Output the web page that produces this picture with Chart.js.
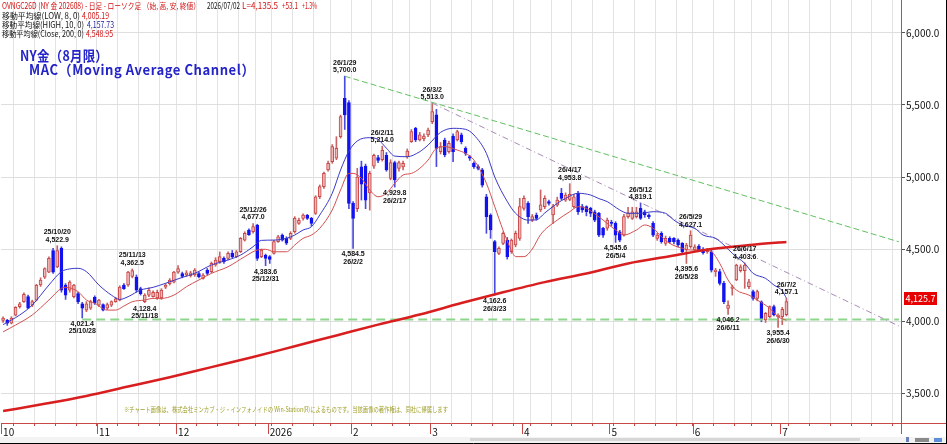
<!DOCTYPE html>
<html>
<head>
<meta charset="utf-8">
<script src="https://cdn.jsdelivr.net/npm/chart.js@4.4.0/dist/chart.umd.min.js"></script>
<style>
  html, body { margin: 0; padding: 0; background: #fff; }
  canvas { display: block; }
</style>
</head>
<body>
<canvas id="chart" width="947" height="444"></canvas>
<script>
// trading calendar (NY gold, US holidays skipped)
const firstDay = '2025-10-01';
const holidays = ['2025-11-27', '2025-12-25', '2026-01-01', '2026-01-19', '2026-02-16',
  '2026-04-03', '2026-05-25', '2026-06-19', '2026-07-03'];
const slotCount = 216;

// daily candles
const opens = [
  4005,4005,3985,4040,4100,4135,4170,4110,4145,4250,
  4305,4340,4490,4375,4505,4250,4215,4170,4190,4120,
  4075,4090,4165,4110,4115,4090,4110,4135,4145,4250,
  4250,4310,4305,4225,4135,4180,4170,4160,4160,4235,
  4260,4270,4340,4330,4320,4315,4320,4330,4296,4354,
  4342,4390,4412,4435,4435,4470,4447,4481,4562,4632,
  4620,4667,4447,4458,4447,4470,4551,4597,4574,4574,
  4620,4678,4713,4736,4713,4748,4863,4933,5049,5106,
  5130,5280,5546,5516,4817,4780,5070,5075,4890,5075,
  5135,5120,5150,4990,5100,5060,5070,5140,5245,5338,
  5257,5265,5292,5384,5431,5176,5257,5176,5285,5257,
  5292,5199,5141,5095,5072,5049,4863,4736,4551,4470,
  4539,4562,4481,4528,4574,4782,4817,4701,4736,4771,
  4794,4829,4736,4805,4887,4840,4845,4794,4887,4794,
  4794,4782,4759,4748,4644,4644,4685,4678,4620,4597,
  4725,4713,4725,4782,4759,4736,4678,4574,4609,4539,
  4574,4574,4562,4539,4493,4516,4493,4521,4498,4481,
  4480,4343,4343,4262,4088,4227,4285,4350,4350,4238,
  4204,4157,4134,4007,4030,4100,4030,4030,4045
];
const highs = [
  4030,4012,4030,4100,4130,4195,4180,4145,4255,4300,
  4370,4445,4505,4523,4515,4260,4280,4255,4200,4130,
  4135,4145,4175,4150,4120,4125,4140,4165,4245,4260,
  4345,4362,4320,4235,4190,4230,4210,4215,4225,4260,
  4295,4345,4385,4340,4350,4345,4365,4340,4330,4365,
  4410,4440,4480,4445,4480,4490,4490,4580,4620,4640,
  4677,4672,4500,4465,4455,4560,4595,4605,4585,4620,
  4725,4715,4745,4740,4720,4870,4945,5035,5110,5225,
  5280,5430,5700,5530,4830,5060,5110,5090,5040,5160,
  5150,5214,5170,5120,5110,5110,5110,5195,5330,5345,
  5310,5300,5340,5513,5470,5240,5270,5250,5300,5325,
  5305,5210,5150,5105,5085,5060,4880,4745,4560,4515,
  4620,4580,4570,4625,4852,4870,4830,4740,4750,4910,
  4870,4840,4810,4860,4921,4890,4954,4880,4900,4810,
  4800,4790,4770,4755,4650,4715,4700,4690,4630,4740,
  4790,4790,4790,4819,4770,4745,4690,4610,4620,4590,
  4585,4580,4570,4545,4540,4627,4530,4530,4510,4505,
  4495,4366,4360,4275,4140,4250,4395,4390,4404,4290,
  4215,4215,4140,4060,4105,4110,4050,4095,4157
];
const lows = [
  3990,3970,3980,4035,4090,4130,4085,4100,4140,4240,
  4295,4335,4330,4370,4200,4150,4200,4160,4120,4021,
  4065,4080,4115,4100,4070,4080,4100,4130,4140,4220,
  4240,4300,4200,4180,4128,4170,4165,4150,4150,4225,
  4250,4265,4330,4300,4310,4305,4310,4300,4290,4320,
  4335,4380,4400,4400,4425,4440,4440,4475,4555,4595,
  4610,4420,4440,4384,4400,4465,4545,4555,4530,4565,
  4610,4670,4700,4705,4660,4740,4850,4920,5040,5095,
  5120,5270,5330,4780,4505,4760,4840,4780,4770,5060,
  5100,5110,5040,4980,4930,5040,5050,5130,5240,5245,
  5250,5250,5280,5370,5072,5160,5140,5165,5106,5250,
  5230,5150,5115,5060,5050,4930,4609,4574,4180,4460,
  4530,4430,4470,4515,4560,4770,4678,4690,4700,4760,
  4780,4805,4678,4795,4840,4830,4835,4785,4740,4755,
  4730,4725,4690,4585,4580,4630,4660,4546,4550,4590,
  4715,4705,4715,4705,4720,4710,4585,4560,4540,4525,
  4540,4535,4515,4470,4400,4505,4485,4485,4465,4470,
  4340,4310,4250,4120,4046,4180,4280,4340,4227,4225,
  4145,4140,3995,3990,4020,4035,3955,3975,4035
];
const closes = [
  4020,3985,4020,4095,4120,4185,4090,4135,4250,4285,
  4365,4435,4340,4490,4215,4180,4270,4250,4135,4090,
  4120,4135,4125,4145,4075,4115,4135,4155,4235,4225,
  4340,4350,4215,4190,4180,4215,4200,4200,4215,4250,
  4285,4340,4365,4310,4335,4335,4354,4308,4319,4331,
  4400,4424,4447,4412,4470,4447,4481,4574,4609,4600,
  4655,4435,4493,4435,4428,4551,4585,4562,4540,4609,
  4713,4700,4736,4713,4678,4863,4933,5025,5095,5211,
  5199,5419,5431,4817,4713,5000,4950,4840,5025,5150,
  5115,5185,5050,5100,4980,5100,5095,5180,5315,5257,
  5292,5285,5326,5454,5199,5211,5153,5234,5176,5315,
  5245,5164,5130,5072,5060,4944,4725,4632,4481,4505,
  4609,4447,4562,4609,4794,4852,4725,4725,4713,4806,
  4852,4817,4794,4840,4852,4875,4880,4863,4759,4771,
  4759,4748,4701,4597,4597,4701,4678,4597,4562,4725,
  4752,4759,4759,4713,4736,4725,4597,4597,4551,4574,
  4551,4551,4528,4481,4528,4597,4516,4493,4475,4498,
  4354,4354,4262,4134,4111,4238,4389,4377,4389,4273,
  4157,4204,4007,4053,4100,4042,4042,4082,4135.5
];

// moving averages, [slot, value] read at points along each line
const maLow = [[0,3925],[3,3972],[7,4042],[11,4146],[14,4227],[15,4234],[18,4204],[20,4146],[22,4123],[25,4076],
  [27,4076],[29,4104],[31,4134],[34,4146],[36,4157],[38,4157],[41,4180],[44,4238],[47,4285],[50,4331],
  [54,4377],[58,4447],[61,4493],[63,4498],[65,4481],[68,4481],[70,4528],[72,4574],[74,4597],[76,4644],
  [79,4771],[81,4910],[83,5025],[84,5025],[86,4991],[88,4910],[90,4863],[92,4887],[94,4956],[96,5014],
  [98,5025],[100,5060],[102,5118],[104,5199],[106,5211],[109,5187],[111,5164],[113,5118],[116,4956],[118,4794],
  [120,4630],[122,4490],[123,4447],[125,4447],[127,4500],[129,4600],[133,4701],[136,4759],[138,4794],[140,4782],
  [142,4745],[144,4701],[147,4632],[149,4597],[152,4632],[154,4667],[156,4644],[158,4586],[160,4539],[163,4505],
  [165,4493],[168,4493],[170,4481],[172,4400],[174,4285],[176,4215],[179,4180],[181,4146],[184,4088],[186,4030],
  [188,4005]];
const maHigh = [[0,3975],[4,4042],[7,4111],[11,4250],[14,4343],[16,4362],[18,4366],[20,4343],[23,4250],[26,4180],
  [28,4150],[30,4169],[33,4215],[36,4234],[39,4262],[43,4303],[46,4331],[50,4389],[54,4424],[57,4458],
  [60,4516],[62,4560],[65,4562],[68,4574],[70,4597],[72,4632],[74,4655],[76,4736],[79,4887],[81,5049],
  [83,5180],[85,5250],[88,5273],[90,5260],[92,5200],[94,5145],[97,5141],[100,5176],[102,5222],[105,5310],
  [108,5338],[111,5331],[113,5292],[116,5164],[118,5000],[121,4830],[123,4748],[126,4701],[128,4703],[130,4750],
  [133,4817],[135,4852],[138,4887],[141,4875],[143,4850],[145,4829],[148,4771],[150,4748],[153,4748],[156,4759],
  [159,4748],[161,4701],[163,4667],[166,4644],[168,4597],[171,4574],[173,4528],[175,4470],[178,4400],[180,4331],
  [183,4296],[185,4250],[187,4210],[188,4158]];
const ma200 = [[0,3375],[10,3425],[20,3480],[30,3545],[40,3610],[50,3680],[60,3750],[70,3825],[80,3900],[90,3975],
  [100,4045],[110,4125],[120,4200],[130,4270],[140,4330],[150,4400],[160,4450],[170,4500],[180,4530],[188,4549]];

// trend lines
const trendTop = [[82,5700],[215,4550]];
const trendMid = [[103,5513],[215,3965]];
const trendFloor = [[19,4010],[215,4010]];

const yTicks = [3500, 4000, 4500, 5000, 5500, 6000];
const yMin = 3292, yMax = 6229;

// high / low call-outs: date, side, text
const marks = [
  ['25/10/20','hi','4,522.9'], ['25/10/28','lo','4,021.4'], ['25/11/13','hi','4,362.5'], ['25/11/18','lo','4,128.4'],
  ['25/12/26','hi','4,677.0'], ['25/12/31','lo','4,383.6'], ['26/1/29','hi','5,700.0'], ['26/2/2','lo','4,584.5'],
  ['26/2/11','hi','5,214.0'], ['26/2/17','lo','4,929.8'], ['26/3/2','hi','5,513.0'], ['26/3/23','lo','4,162.6'],
  ['26/4/17','hi','4,953.8'], ['26/5/4','lo','4,545.6'], ['26/5/12','hi','4,819.1'], ['26/5/28','lo','4,395.6'],
  ['26/5/29','hi','4,627.1'], ['26/6/11','lo','4,046.2'], ['26/6/17','hi','4,403.6'], ['26/6/30','lo','3,955.4'],
  ['26/7/2','hi','4,157.1']
];
const lastPrice = 4155, lastPriceText = '4,125.7';

// ---- build categories
const days = [];
let d = new Date(firstDay + 'T00:00:00Z');
while (days.length < slotCount) {
  const iso = d.toISOString().slice(0, 10);
  const wd = d.getUTCDay();
  if (wd !== 0 && wd !== 6 && !holidays.includes(iso)) days.push(new Date(d));
  d.setUTCDate(d.getUTCDate() + 1);
}
const n = opens.length;
const labels = days.map((t, i) => i < n ? String(t.getUTCFullYear()).slice(2) + '/' + (t.getUTCMonth() + 1) + '/' + t.getUTCDate() : '');
const weekStart = days.map((t, i) => i > 0 && t.getUTCDay() < days[i - 1].getUTCDay());
const monthStart = days.map((t, i) => i < n && (i === 0 || t.getUTCMonth() !== days[i - 1].getUTCMonth()));
const monthLabel = i => days[i].getUTCMonth() === 0 ? String(days[i].getUTCFullYear()) : String(days[i].getUTCMonth() + 1);

function spread(pts) {
  const a = new Array(slotCount).fill(null);
  pts.forEach(p => { a[p[0]] = p[1]; });
  return a;
}
const isUp = i => closes[i] >= opens[i];
const fmt = v => v.toLocaleString('en-US', {minimumFractionDigits: 1, maximumFractionDigits: 1});

const JP = '"Noto Sans CJK JP"';

const extras = {
  id: 'extras',
  beforeDraw(chart) {
    const c = chart.ctx;
    c.save();
    c.fillStyle = '#fff';
    c.fillRect(0, 0, chart.width, chart.height);
    c.restore();
  },
  afterDraw(chart) {
    const c = chart.ctx, xs = chart.scales.x, ys = chart.scales.y, a = chart.chartArea;
    const slot = xs.getPixelForValue(1) - xs.getPixelForValue(0);
    c.save();

    // long month ticks
    c.strokeStyle = '#c84848';
    c.lineWidth = 1;
    monthStart.forEach((m, i) => {
      if (!m) return;
      const x = Math.round(xs.getPixelForValue(i) - slot / 2) + 0.5;
      c.beginPath(); c.moveTo(x, a.bottom); c.lineTo(x, a.bottom + 11); c.stroke();
    });
    c.beginPath(); c.moveTo(a.right + 0.5, a.bottom); c.lineTo(a.right + 0.5, a.bottom + 11); c.stroke();
    c.beginPath(); c.moveTo(a.right, a.bottom + 0.5); c.lineTo(946, a.bottom + 0.5); c.stroke();

    // scroll strip and frame
    c.fillStyle = '#f3f3f3';
    c.fillRect(0, 437, 946, 6);
    c.fillStyle = '#d6d6d6';
    c.fillRect(470, 438, 390, 3);
    c.fillStyle = '#6a7fb8';
    c.fillRect(906, 437, 3, 5);
    c.fillStyle = '#8a8a8a';
    c.fillRect(915, 438, 14, 4);
    c.fillStyle = '#5b8fd8';
    c.fillRect(934, 438, 8, 4);
    c.strokeStyle = '#000';
    c.beginPath(); c.moveTo(946.5, 0); c.lineTo(946.5, 444); c.stroke();
    c.beginPath(); c.moveTo(0, 443.5); c.lineTo(947, 443.5); c.stroke();

    // high / low call-outs
    c.font = 'bold 7px "Liberation Sans"';
    c.textAlign = 'center';
    c.textBaseline = 'middle';
    c.fillStyle = '#111';
    marks.forEach(m => {
      const i = labels.indexOf(m[0]);
      if (i < 0) return;
      const x = xs.getPixelForValue(i);
      if (m[1] === 'hi') {
        const y = ys.getPixelForValue(highs[i]);
        c.fillText(m[0], x, y - 13.5);
        c.fillText(m[2], x, y - 6);
      } else {
        const y = ys.getPixelForValue(lows[i]);
        c.fillText(m[2], x, y + 6);
        c.fillText(m[0], x, y + 13.5);
      }
    });

    // current price box
    const yp = ys.getPixelForValue(lastPrice);
    c.fillStyle = '#e60000';
    c.fillRect(904, Math.round(yp - 6.5), 33, 13);
    c.fillStyle = '#fff';
    c.font = '9px ' + JP;
    c.fillText(lastPriceText, 920.5, yp);

    // header
    c.textAlign = 'left';
    c.font = '8.5px ' + JP;
    const head = [
      [2, 6, '#d01010', 'OVNGC26D (NY 金 202608) - 日足 - ローソク足 （始, 高, 安, 終値）', 198],
      [207, 6, '#111', '2026/07/02', 33],
      [242, 6, '#d01010', 'L=4,135.5', 36],
      [282, 6, '#d01010', '+53.1', 16],
      [302, 6, '#d01010', '+1.3%', 15],
      [2, 15.5, '#111', '移動平均線(LOW, 8, 0)', 78],
      [82, 15.5, '#d01010', '4,005.19', 27],
      [2, 24.5, '#111', '移動平均線(HIGH, 10, 0)', 82],
      [87, 24.5, '#1c1c9c', '4,157.73', 27],
      [2, 33.5, '#111', '移動平均線(Close, 200, 0)', 82],
      [86, 33.5, '#d01010', '4,548.95', 27]
    ];
    head.forEach(h => { c.fillStyle = h[2]; c.fillText(h[3], h[0], h[1], h[4]); });

    // title
    c.fillStyle = '#2424c8';
    c.font = 'bold 14px ' + JP;
    c.letterSpacing = '0.3px';
    c.fillText('NY金（8月限）', 20, 56, 88);
    c.letterSpacing = '0.6px';
    c.fillText('MAC（Moving Average Channel）', 29, 70, 226);
    c.letterSpacing = '0px';

    // credit line
    c.fillStyle = '#a0a02c';
    c.font = '7px ' + JP;
    c.fillText('※チャート画像は、株式会社ミンカブ・ジ・インフォノイドの Win-Station(R)によるものです。当該画像の著作権は、同社に帰属します', 124, 409, 324);

    c.restore();
  }
};

const lineBase = {type: 'line', pointRadius: 0, pointHoverRadius: 0, spanGaps: true, fill: false};

new Chart(document.getElementById('chart').getContext('2d'), {
  type: 'bar',
  data: {
    labels: labels,
    datasets: [
      Object.assign({}, lineBase, {data: spread(ma200), borderColor: '#d81e1e', borderWidth: 2.5,
        cubicInterpolationMode: 'monotone', order: 1}),
      Object.assign({}, lineBase, {data: spread(maHigh), borderColor: '#3a3ac8', borderWidth: 1,
        cubicInterpolationMode: 'monotone', order: 2}),
      Object.assign({}, lineBase, {data: spread(maLow), borderColor: '#d25050', borderWidth: 1,
        cubicInterpolationMode: 'monotone', order: 3}),
      Object.assign({}, lineBase, {data: spread(trendTop), borderColor: '#62c062', borderWidth: 1,
        borderDash: [6, 3], order: 4}),
      Object.assign({}, lineBase, {data: spread(trendMid), borderColor: '#a88cb8', borderWidth: 1,
        borderDash: [6, 3, 1, 3], order: 5}),
      Object.assign({}, lineBase, {data: spread(trendFloor), borderColor: '#8cd68c', borderWidth: 2,
        borderDash: [9, 5], order: 6}),
      {
        type: 'bar',
        data: opens.map((o, i) => [o, closes[i]]),
        backgroundColor: c => isUp(c.dataIndex || 0) ? '#f0b8b8' : '#1212f0',
        borderColor: c => isUp(c.dataIndex || 0) ? '#c84646' : '#1212f0',
        borderWidth: 1,
        borderSkipped: false,
        barThickness: 3,
        minBarLength: 1,
        grouped: false,
        order: 9
      },
      {
        type: 'bar',
        data: lows.map((l, i) => [l, highs[i]]),
        backgroundColor: c => isUp(c.dataIndex || 0) ? '#c86464' : '#4a4ade',
        barThickness: 1,
        grouped: false,
        order: 10
      }
    ]
  },
  options: {
    responsive: false,
    animation: false,
    events: [],
    layout: {padding: {left: 1, top: 0, right: 0, bottom: 0}},
    plugins: {legend: {display: false}, tooltip: {enabled: false}},
    scales: {
      x: {
        offset: true,
        border: {color: '#c84848', width: 1},
        grid: {
          offset: true,
          color: c => weekStart[c.index] ? '#e3e3e3' : 'rgba(0,0,0,0)',
          tickColor: c => weekStart[c.index] ? '#c84848' : 'rgba(0,0,0,0)',
          tickLength: 3,
          lineWidth: 1
        },
        ticks: {
          autoSkip: false,
          maxRotation: 0,
          minRotation: 0,
          align: 'start',
          padding: 0,
          color: '#111',
          font: {family: 'Noto Sans CJK JP', size: 10},
          callback: (v, i) => monthStart[i] ? monthLabel(i) : ''
        },
        afterFit: s => { s.height = 21; s.paddingLeft = 0; s.paddingRight = 0; }
      },
      y: {
        position: 'right',
        min: yMin,
        max: yMax,
        afterBuildTicks: s => { s.ticks = yTicks.map(v => ({value: v})); },
        border: {color: '#c84848', width: 1},
        grid: {color: '#dedede', tickColor: '#555', tickLength: 4},
        ticks: {
          padding: 1,
          color: '#111',
          font: {family: 'Noto Sans CJK JP', size: 10},
          callback: v => fmt(v)
        },
        afterFit: s => { s.width = 46; s.paddingTop = 0; s.paddingBottom = 0; }
      }
    }
  },
  plugins: [extras]
});
</script>
</body>
</html>
